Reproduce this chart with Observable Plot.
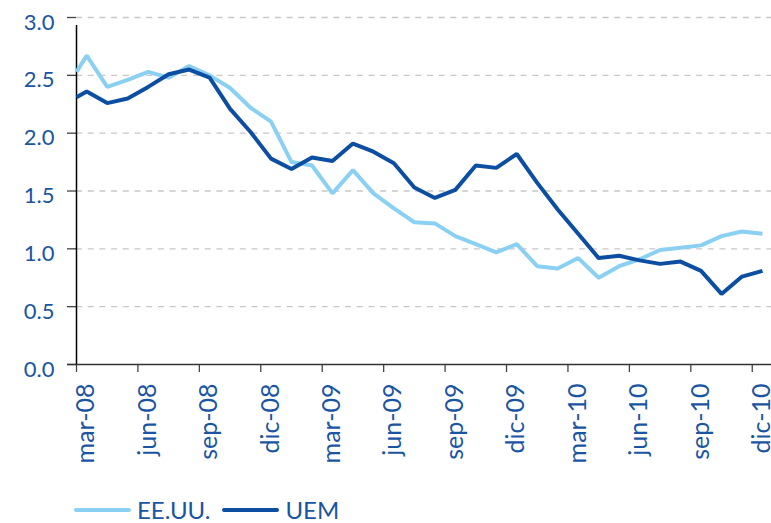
<!DOCTYPE html>
<html>
<head>
<meta charset="utf-8">
<script src="https://cdn.jsdelivr.net/npm/d3@7"></script>
<script src="https://cdn.jsdelivr.net/npm/@observablehq/plot@0.6"></script>
<style>
  html, body { margin: 0; padding: 0; background: #fff; }
  body { position: relative; width: 771px; height: 523px; overflow: hidden; font-family: Lato, "Open Sans", sans-serif; }
  #chart { position: absolute; left: 0; top: 0; }
  #legend { position: absolute; left: 74px; top: 498px; display: flex; align-items: center; font-size: 24px; line-height: 24px; color: #1a55a3; white-space: nowrap; }
  #legend .sw { display: inline-block; width: 57px; height: 4px; border-radius: 2px; margin-right: 6px; }
  #legend .item { display: flex; align-items: center; margin-right: 12px; }
  g[aria-label="etiquetas-y"] text { letter-spacing: 1.2px; }
</style>
</head>
<body>
<div id="chart"></div>
<div id="legend"></div>
<script>
// Fechas de las observaciones (la primera en el eje, luego mitad de cada mes)
const fechas = [
  "2008-03-01","2008-03-16","2008-04-16","2008-05-16","2008-06-16","2008-07-16","2008-08-16","2008-09-16",
  "2008-10-16","2008-11-16","2008-12-16","2009-01-16","2009-02-16","2009-03-16","2009-04-16","2009-05-16",
  "2009-06-16","2009-07-16","2009-08-16","2009-09-16","2009-10-16","2009-11-16","2009-12-16","2010-01-16",
  "2010-02-16","2010-03-16","2010-04-16","2010-05-16","2010-06-16","2010-07-16","2010-08-16","2010-09-16",
  "2010-10-16","2010-11-16","2010-12-16"
];
const series = ["EE.UU.", "UEM"];
const colores = ["#8ad0f2", "#0c4ea2"];
const eeuu = [2.53, 2.67, 2.40, 2.46, 2.53, 2.48, 2.58, 2.50, 2.39, 2.22, 2.10, 1.75, 1.72, 1.48, 1.68, 1.48,
              1.35, 1.23, 1.22, 1.11, 1.04, 0.97, 1.04, 0.85, 0.83, 0.92, 0.75, 0.85, 0.91, 0.99, 1.01, 1.03,
              1.11, 1.15, 1.13];
const uem  = [2.31, 2.36, 2.26, 2.30, 2.40, 2.51, 2.55, 2.48, 2.21, 2.01, 1.78, 1.69, 1.79, 1.76, 1.91, 1.84,
              1.74, 1.53, 1.44, 1.51, 1.72, 1.70, 1.82, 1.57, 1.34, 1.13, 0.92, 0.94, 0.90, 0.87, 0.89, 0.81,
              0.61, 0.76, 0.81];
const xTickLabels = ["mar-08","jun-08","sep-08","dic-08","mar-09","jun-09","sep-09","dic-09","mar-10","jun-10","sep-10","dic-10"];
const yTicks = [0, 0.5, 1, 1.5, 2, 2.5, 3];

const mesesES = {ene:1,feb:2,mar:3,abr:4,may:5,jun:6,jul:7,ago:8,sep:9,oct:10,nov:11,dic:12};
// índice en meses desde marzo 2008
function mesIdx(s) {
  const [y, m, d] = s.split("-").map(Number);
  return (y - 2008) * 12 + (m - 3) + (d - 1) / 30;
}
function etiquetaIdx(lbl) {
  const [m, yy] = lbl.split("-");
  return (2000 + Number(yy) - 2008) * 12 + (mesesES[m] - 3);
}
const xTicks = xTickLabels.map(etiquetaIdx);

const valores = [eeuu, uem];
const data = [];
series.forEach((s, si) => {
  fechas.forEach((f, i) => data.push({x: mesIdx(f), y: valores[si][i], serie: s}));
});

const textColor = "#1a55a3";
const font = "Lato, 'Open Sans', sans-serif";

const chart = Plot.plot({
  width: 771,
  height: 490,
  marginLeft: 76,
  marginRight: 0,
  marginTop: 17,
  marginBottom: 126,
  style: {fontFamily: font, background: "#fff", overflow: "visible"},
  x: {domain: [0, 33.94], label: null, axis: null},
  y: {domain: [0, 3], label: null, axis: null},
  color: {domain: series, range: colores},
  marks: [
    // rejilla discontinua
    Plot.ruleY(yTicks.filter(d => d > 0), {stroke: "#c8c8c8", strokeWidth: 1.3, strokeDasharray: "6,5.7"}),
    // marcas de los ejes
    Plot.axisY({ticks: yTicks, tickSize: 9, fill: "none", stroke: "#444", strokeWidth: 1.3, label: null}),
    Plot.axisX({ticks: xTicks, tickSize: 8, fill: "none", stroke: "#444", strokeWidth: 1.3, label: null}),
    // etiquetas del eje Y
    Plot.text(yTicks, {y: d => d, text: d => d.toFixed(1), frameAnchor: "left", textAnchor: "end",
                       dx: -22, dy: 5, fontSize: 22, fill: textColor, ariaLabel: "etiquetas-y"}),
    // etiquetas del eje X (verticales)
    Plot.text(xTickLabels, {x: d => etiquetaIdx(d), text: d => d, frameAnchor: "bottom", rotate: -90,
                            textAnchor: "end", lineAnchor: "top", dy: 19, dx: 0, fontSize: 25, fill: textColor}),
    // líneas de los ejes
    Plot.ruleY([0], {stroke: "#333", strokeWidth: 1.5, insetLeft: -9}),
    Plot.ruleX([0], {y1: 0, y2: 3, stroke: "#000", strokeWidth: 1.5, insetBottom: -8}),
    // series
    Plot.line(data, {x: "x", y: "y", z: "serie", stroke: "serie", strokeWidth: 4, strokeLinejoin: "miter", strokeLinecap: "butt"})
  ]
});
document.getElementById("chart").appendChild(chart);

const legend = document.getElementById("legend");
series.forEach((s, i) => {
  const item = document.createElement("span");
  item.className = "item";
  const sw = document.createElement("span");
  sw.className = "sw";
  sw.style.background = colores[i];
  const t = document.createElement("span");
  t.textContent = s;
  item.appendChild(sw);
  item.appendChild(t);
  legend.appendChild(item);
});
</script>
</body>
</html>
